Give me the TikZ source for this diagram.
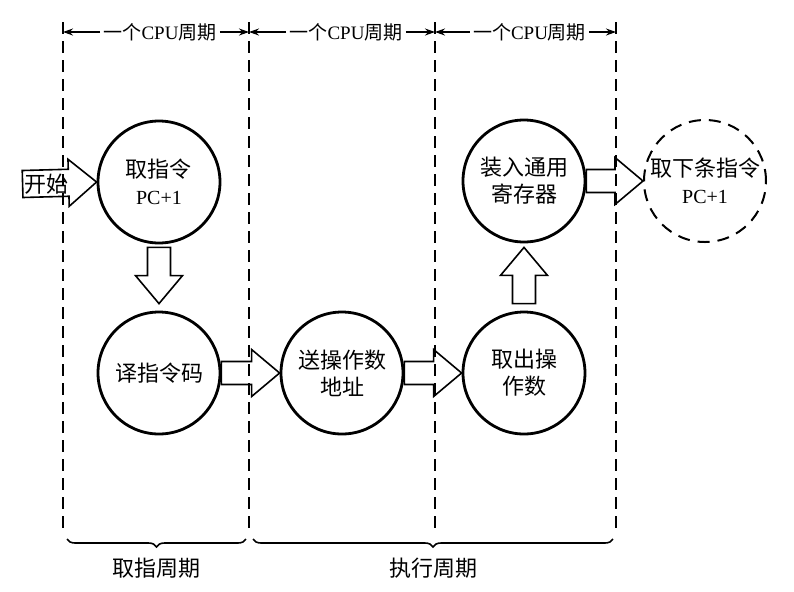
\documentclass[tikz,border=0pt]{standalone}
\usepackage{fontspec}
\setmainfont{Liberation Serif}
\newfontfamily\cjk{Noto Sans CJK SC}
\usetikzlibrary{arrows.meta,calc,decorations.pathreplacing}

\tikzset{
  stage/.style={circle, draw, line width=1.4pt, minimum size=61pt, inner sep=0pt, align=center, font=\cjk\fontsize{11}{13.5}\selectfont},
  nextstage/.style={stage, line width=1pt, dash pattern=on 6pt off 4pt},
  cycleline/.style={line width=1pt, dash pattern=on 6pt off 3.5pt},
  cyclelabel/.style={inner sep=1.5pt, font=\cjk\fontsize{9.5}{11}\selectfont},
  dimarrow/.style={-{Stealth[length=5pt,width=3.5pt]}, line width=0.6pt},
  fatline/.style={line width=0.8pt, line join=miter},
  phase/.style={decorate, decoration={brace, mirror, amplitude=4pt}, line width=0.8pt},
  phaselabel/.style={inner sep=0pt, font=\cjk\fontsize{11}{13}\selectfont},
  pcline/.style={}
}

% hollow block arrow from #2 to #3, #1 = half width of the shaft
\newcommand\fatarrow[3][5.75pt]{%
  \coordinate (fa-s) at (#2);
  \coordinate (fa-e) at (#3);
  \coordinate (fa-n) at ($(fa-e)!14pt!(fa-s)$);
  \draw[fatline] ($(fa-s)!#1!90:(fa-e)$) -- ($(fa-n)!#1!90:(fa-e)$) -- ($(fa-n)!11.75pt!90:(fa-e)$)
    -- (fa-e) -- ($(fa-n)!11.75pt!-90:(fa-e)$) -- ($(fa-n)!#1!-90:(fa-e)$) -- ($(fa-s)!#1!-90:(fa-e)$) -- cycle;
}
\newcommand\pc{{\rmfamily\fontsize{10}{12}\selectfont PC+1}}

\begin{document}
\begin{tikzpicture}[x=0.5pt, y=-0.5pt]
  \useasboundingbox (0,0) rectangle (794,591);

  % CPU cycles
  \foreach \i/\x in {0/63,1/249,2/435,3/616} {
    \coordinate (t\i) at (\x,22);
    \coordinate (b\i) at (\x,532);
    \draw[cycleline] (t\i) -- (b\i);
  }
  \foreach \i/\j in {0/1,1/2,2/3} {
    \node[cyclelabel] (cyc\j) at ($(t\i)!0.5!(t\j)+(4,10)$) {一个{\rmfamily CPU}周期};
    \draw[dimarrow] (cyc\j.west) -- (cyc\j.west -| t\i);
    \draw[dimarrow] (cyc\j.east) -- (cyc\j.east -| t\j);
  }

  % stages
  \node[stage] (fetch) at (159,182) {取指令\\\pc};
  \node[stage] (decode) at (159,373) {译指令码};
  \node[stage] (addr) at (342,373) {送操作数\\地址};
  \node[stage] (operand) at (524,373) {取出操\\作数};
  \node[stage] (load) at (524,181) {装入通用\\寄存器};
  \node[nextstage] (next) at (705,181) {取下条指令\\\pc};

  \node[phaselabel, inner sep=1pt] (start) at (47,184) {开始};

  \fatarrow[6.75pt]{start.west}{fetch.west}
  \fatarrow{[yshift=-1.5pt]fetch.south}{[yshift=3.5pt]decode.north}
  \fatarrow{decode.east}{addr.west}
  \fatarrow{addr.east}{operand.west}
  \fatarrow{[yshift=3.5pt]operand.north}{[yshift=-2pt]load.south}
  \fatarrow{load.east}{next.west}

  % phases
  \draw[phase] ([shift={(4,7)}]b0) -- ([shift={(-3,7)}]b1) node[phaselabel, midway, below=9pt] (fetchphase) {取指周期};
  \draw[phase] ([shift={(4,7)}]b1) -- ([shift={(-3,7)}]b3) node[phaselabel, midway, below=9pt] (execphase) {执行周期};
\end{tikzpicture}
\end{document}
